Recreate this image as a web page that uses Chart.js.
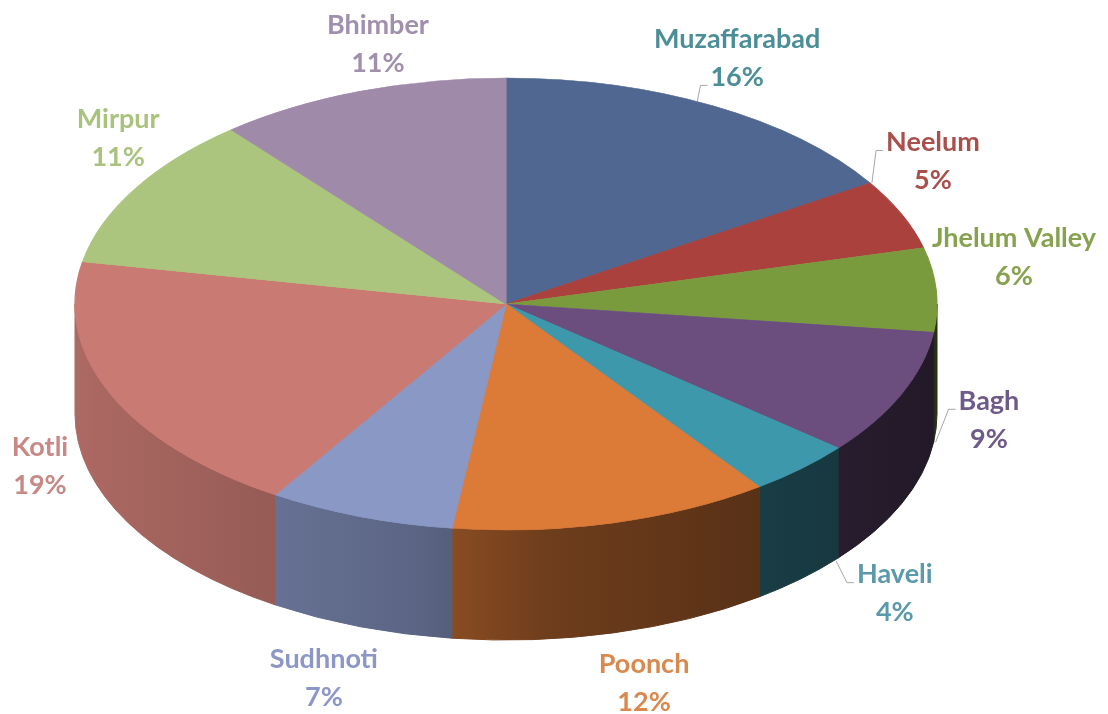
<!DOCTYPE html>
<html>
<head>
<meta charset="utf-8">
<script src="https://cdn.jsdelivr.net/npm/chart.js@4.4.1/dist/chart.umd.min.js"></script>
<style>
  body { margin: 0; background: #fff; }
</style>
</head>
<body>
<canvas id="pieChart" width="1108" height="714"></canvas>
<script>
// district shares (percent)
const districts = ['Muzaffarabad', 'Neelum', 'Jhelum Valley', 'Bagh', 'Haveli', 'Poonch', 'Sudhnoti', 'Kotli', 'Mirpur', 'Bhimber'];
const shares = [16, 5, 6, 9, 4, 12, 7, 19, 11, 11];

const sliceColors = ['#4f6791', '#aa413d', '#7a9a3e', '#6b4d7e', '#3e98ac', '#dc7a37', '#8a98c6', '#c97a73', '#abc57e', '#a08aaa'];
const labelColors = ['#4b8e98', '#a9504c', '#86a24e', '#6e5a88', '#5a9aaa', '#d9884e', '#8c97c7', '#c78985', '#a9c37e', '#a18fae'];

// layout of the tilted pie
const CX = 506, CY = 304, RX = 431, RY = 226, DEPTH = 110;
const labelNudge = [[-15, 5], [-42, -29], [-2, -29], [14, -41], [39, 1], [11, -4], [-9, 2], [3, 5], [52, -20], [45, 9]];
const leaderLine = [1, 0, null, 0, 0, null, null, null, null, null];

function shade(hex, f) {
    var n = parseInt(hex.slice(1), 16);
    var r = Math.round(((n >> 16) & 255) * f);
    var g = Math.round(((n >> 8) & 255) * f);
    var b = Math.round((n & 255) * f);
    return 'rgb(' + r + ',' + g + ',' + b + ')';
}

// point on the outline of the solid pie for a given angle
function rimPoint(a) {
    var s = Math.sin(a);
    return [CX + RX * Math.cos(a), CY + RY * s + (s > 0 ? DEPTH : 0)];
}

const pie3d = {
    id: 'pie3d',
    beforeDatasetsDraw: function (chart) {
        var ctx = chart.ctx;
        var arcs = chart.getDatasetMeta(0).data;
        // side wall of the front half
        arcs.forEach(function (arc, i) {
            var s = Math.max(arc.startAngle, 0);
            var e = Math.min(arc.endAngle, Math.PI);
            if (e <= s) return;
            var grad = ctx.createLinearGradient(CX - RX, 0, CX + RX, 0);
            grad.addColorStop(0, shade(sliceColors[i], 0.86));
            grad.addColorStop(0.4, shade(sliceColors[i], 0.66));
            grad.addColorStop(0.55, shade(sliceColors[i], 0.5));
            grad.addColorStop(1, shade(sliceColors[i], 0.32));
            ctx.beginPath();
            ctx.ellipse(CX, CY, RX, RY, 0, s, e);
            ctx.ellipse(CX, CY + DEPTH, RX, RY, 0, e, s, true);
            ctx.closePath();
            ctx.fillStyle = grad;
            ctx.fill();
            ctx.strokeStyle = grad;
            ctx.lineWidth = 1;
            ctx.stroke();
        });
        // squash the library's pie onto the top face
        var a = arcs[0];
        var R = a.outerRadius;
        ctx.save();
        ctx.translate(CX, CY);
        ctx.scale(RX / R, RY / R);
        ctx.translate(-a.x, -a.y);
    },
    afterDatasetsDraw: function (chart) {
        var ctx = chart.ctx;
        ctx.restore();
        var arcs = chart.getDatasetMeta(0).data;
        ctx.save();
        ctx.font = 'bold 27px Lato';
        ctx.textAlign = 'center';
        ctx.textBaseline = 'middle';
        arcs.forEach(function (arc, i) {
            var mid = (arc.startAngle + arc.endAngle) / 2;
            var c = Math.cos(mid), s = Math.sin(mid);
            var lx = CX + (RX + 80) * c + labelNudge[i][0];
            var ly = CY + (RY + 60) * s + (s > 0 ? DEPTH * s : 0) + labelNudge[i][1];
            var lines = [districts[i], shares[i] + '%'];
            if (leaderLine[i] !== null) {
                var k = leaderLine[i];
                var w = ctx.measureText(lines[k]).width;
                var tx = lx - w / 2 - 10, ty = ly + (k === 0 ? -19 : 19) + 8;
                // nearest rim point of this slice
                var best = null, bd = Infinity;
                for (var t = arc.startAngle; t <= arc.endAngle; t += 0.005) {
                    var p = rimPoint(t);
                    var d = Math.hypot(p[0] - tx, p[1] - ty);
                    if (d < bd) { bd = d; best = p; }
                }
                ctx.beginPath();
                ctx.moveTo(best[0] + 2, best[1]);
                ctx.lineTo(tx, ty);
                ctx.lineTo(tx + 7, ty);
                ctx.strokeStyle = '#a6a6a6';
                ctx.lineWidth = 1;
                ctx.stroke();
            }
            ctx.fillStyle = labelColors[i];
            ctx.fillText(lines[0], lx, ly - 19);
            ctx.fillText(lines[1], lx, ly + 19);
        });
        ctx.restore();
    }
};

var ctx = document.getElementById('pieChart').getContext('2d');
var pieChart = new Chart(ctx, {
    type: 'pie',
    data: {
        labels: districts,
        datasets: [{
            data: shares,
            backgroundColor: sliceColors,
            borderColor: sliceColors,
            borderWidth: 1,
            clip: false
        }]
    },
    options: {
        responsive: false,
        animation: false,
        layout: { padding: 0 },
        plugins: {
            legend: { display: false },
            tooltip: { enabled: false }
        }
    },
    plugins: [pie3d]
});
</script>
</body>
</html>
